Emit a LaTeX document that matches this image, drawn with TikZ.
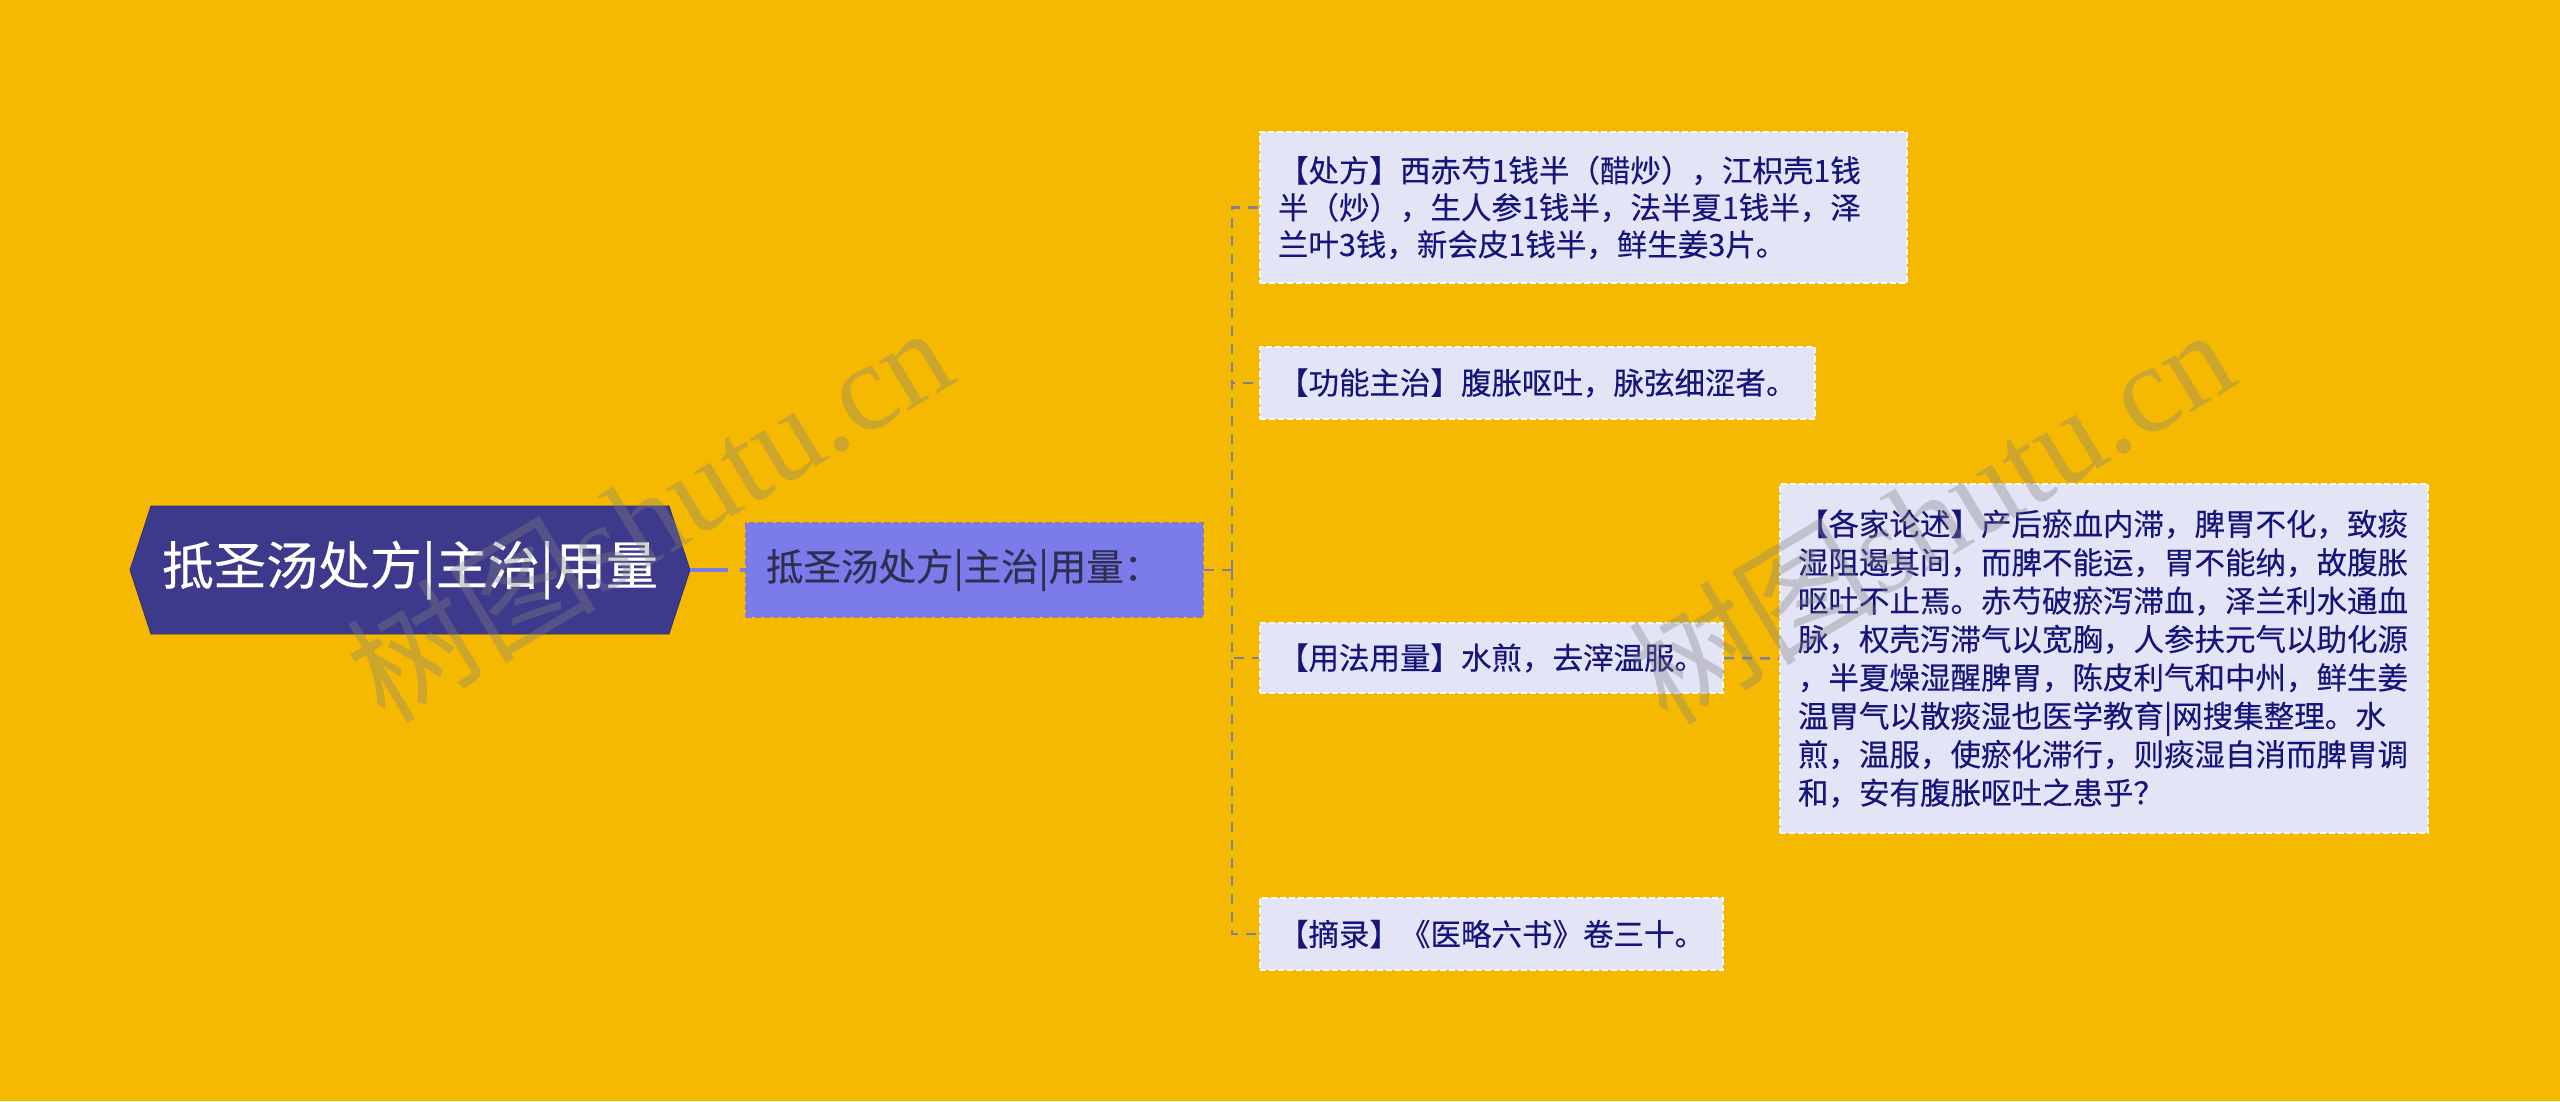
\documentclass[tikz,border=0pt]{standalone}
\usepackage{fontspec}
\setmainfont{Noto Sans CJK SC}[FakeBold=0.35]
\newfontfamily\wmcjk{Noto Sans CJK SC}
\newfontfamily\wmlat{Liberation Serif}
\usetikzlibrary{shapes.symbols}
\definecolor{bgc}{HTML}{F6B902}
\definecolor{rootc}{HTML}{3E3A8B}
\definecolor{midc}{HTML}{7B7BEA}
\definecolor{midtxt}{HTML}{2E2E50}
\definecolor{leafc}{HTML}{E4E4F7}
\definecolor{leaftxt}{HTML}{16167A}
\definecolor{connc}{HTML}{80809C}
\tikzset{
  rootbox/.style={shape=signal, signal to=east and west, signal pointer angle=143.7,
    fill=rootc, draw=rootc!80!black, line width=0.8pt, minimum width=560pt, minimum height=128pt,
    inner sep=0pt, text=white, font=\fontsize{52}{60}\selectfont},
  midbox/.style={rectangle, fill=midc, draw=midc!80!gray, line width=1.5pt, dash pattern=on 6pt off 3pt,
    minimum width=457pt, minimum height=94pt, inner xsep=20pt, inner ysep=0pt,
    text width=417pt, align=left, text=midtxt, font=\fontsize{37.5}{44}\selectfont},
  leafbox/.style={rectangle, fill=leafc, draw=white!85!leafc, line width=1.5pt, dash pattern=on 6pt off 3pt,
    inner xsep=18pt, inner ysep=0pt, align=left, text=leaftxt, font=\fontsize{30.5}{37}\selectfont},
  conn/.style={draw=connc, line width=2.5pt, dash pattern=on 10pt off 8pt},
  rootconn/.style={draw=midc, line width=4pt, dash pattern=on 38pt off 12pt},
  wm/.style={text=gray, text opacity=0.35, inner sep=0pt, font=\fontsize{125}{130}\selectfont}
}
\begin{document}
\begin{tikzpicture}[x=1pt,y=-1pt]
\fill[bgc] (0,0) rectangle (2560,1101);
\useasboundingbox (0,0) rectangle (2560,1101);

\node[rootbox] (root) at (410,570) {抵圣汤处方|主治|用量};
\node[midbox] (mid) at (974.5,570) {抵圣汤处方|主治|用量：};

\node[leafbox, minimum width=647pt, minimum height=151pt, text width=611pt] (l1) at (1583.5,207.5)
  {【处方】西赤芍1钱半（醋炒），江枳壳1钱\\半（炒），生人参1钱半，法半夏1钱半，泽\\兰叶3钱，新会皮1钱半，鲜生姜3片。};
\node[leafbox, minimum width=555pt, minimum height=72pt, text width=519pt] (l2) at (1537.5,383)
  {【功能主治】腹胀呕吐，脉弦细涩者。};
\node[leafbox, minimum width=463pt, minimum height=70pt, text width=427pt] (l3) at (1491.5,658)
  {【用法用量】水煎，去滓温服。};
\node[leafbox, minimum width=463pt, minimum height=72pt, text width=427pt] (l4) at (1491.5,934)
  {【摘录】《医略六书》卷三十。};
\node[leafbox, minimum width=648pt, minimum height=349pt, text width=612pt, font=\fontsize{30.5}{38.4}\selectfont] (l5) at (2104,658.5)
  {【各家论述】产后瘀血内滞，脾胃不化，致痰\\
湿阻遏其间，而脾不能运，胃不能纳，故腹胀\\
呕吐不止焉。赤芍破瘀泻滞血，泽兰利水通血\\
脉，权壳泻滞气以宽胸，人参扶元气以助化源\\
，半夏燥湿醒脾胃，陈皮利气和中州，鲜生姜\\
温胃气以散痰湿也医学教育|网搜集整理。水\\
煎，温服，使瘀化滞行，则痰湿自消而脾胃调\\
和，安有腹胀呕吐之患乎？};

\coordinate (sp) at (1232,570);
\draw[rootconn] (root.east) -- (mid.west);
\draw[conn] (mid.east) -- (sp);
\foreach \l in {l1,l2,l3,l4} \draw[conn] (sp) |- (\l.west);
\draw[conn] (l3.east) -- (l5.west);

\node[wm, rotate=31] (wm1) at (648,512) {\wmcjk 树图\wmlat shutu.cn};
\node[wm, rotate=31] (wm2) at (1930,514) {\wmcjk 树图\wmlat shutu.cn};
\end{tikzpicture}
\end{document}
